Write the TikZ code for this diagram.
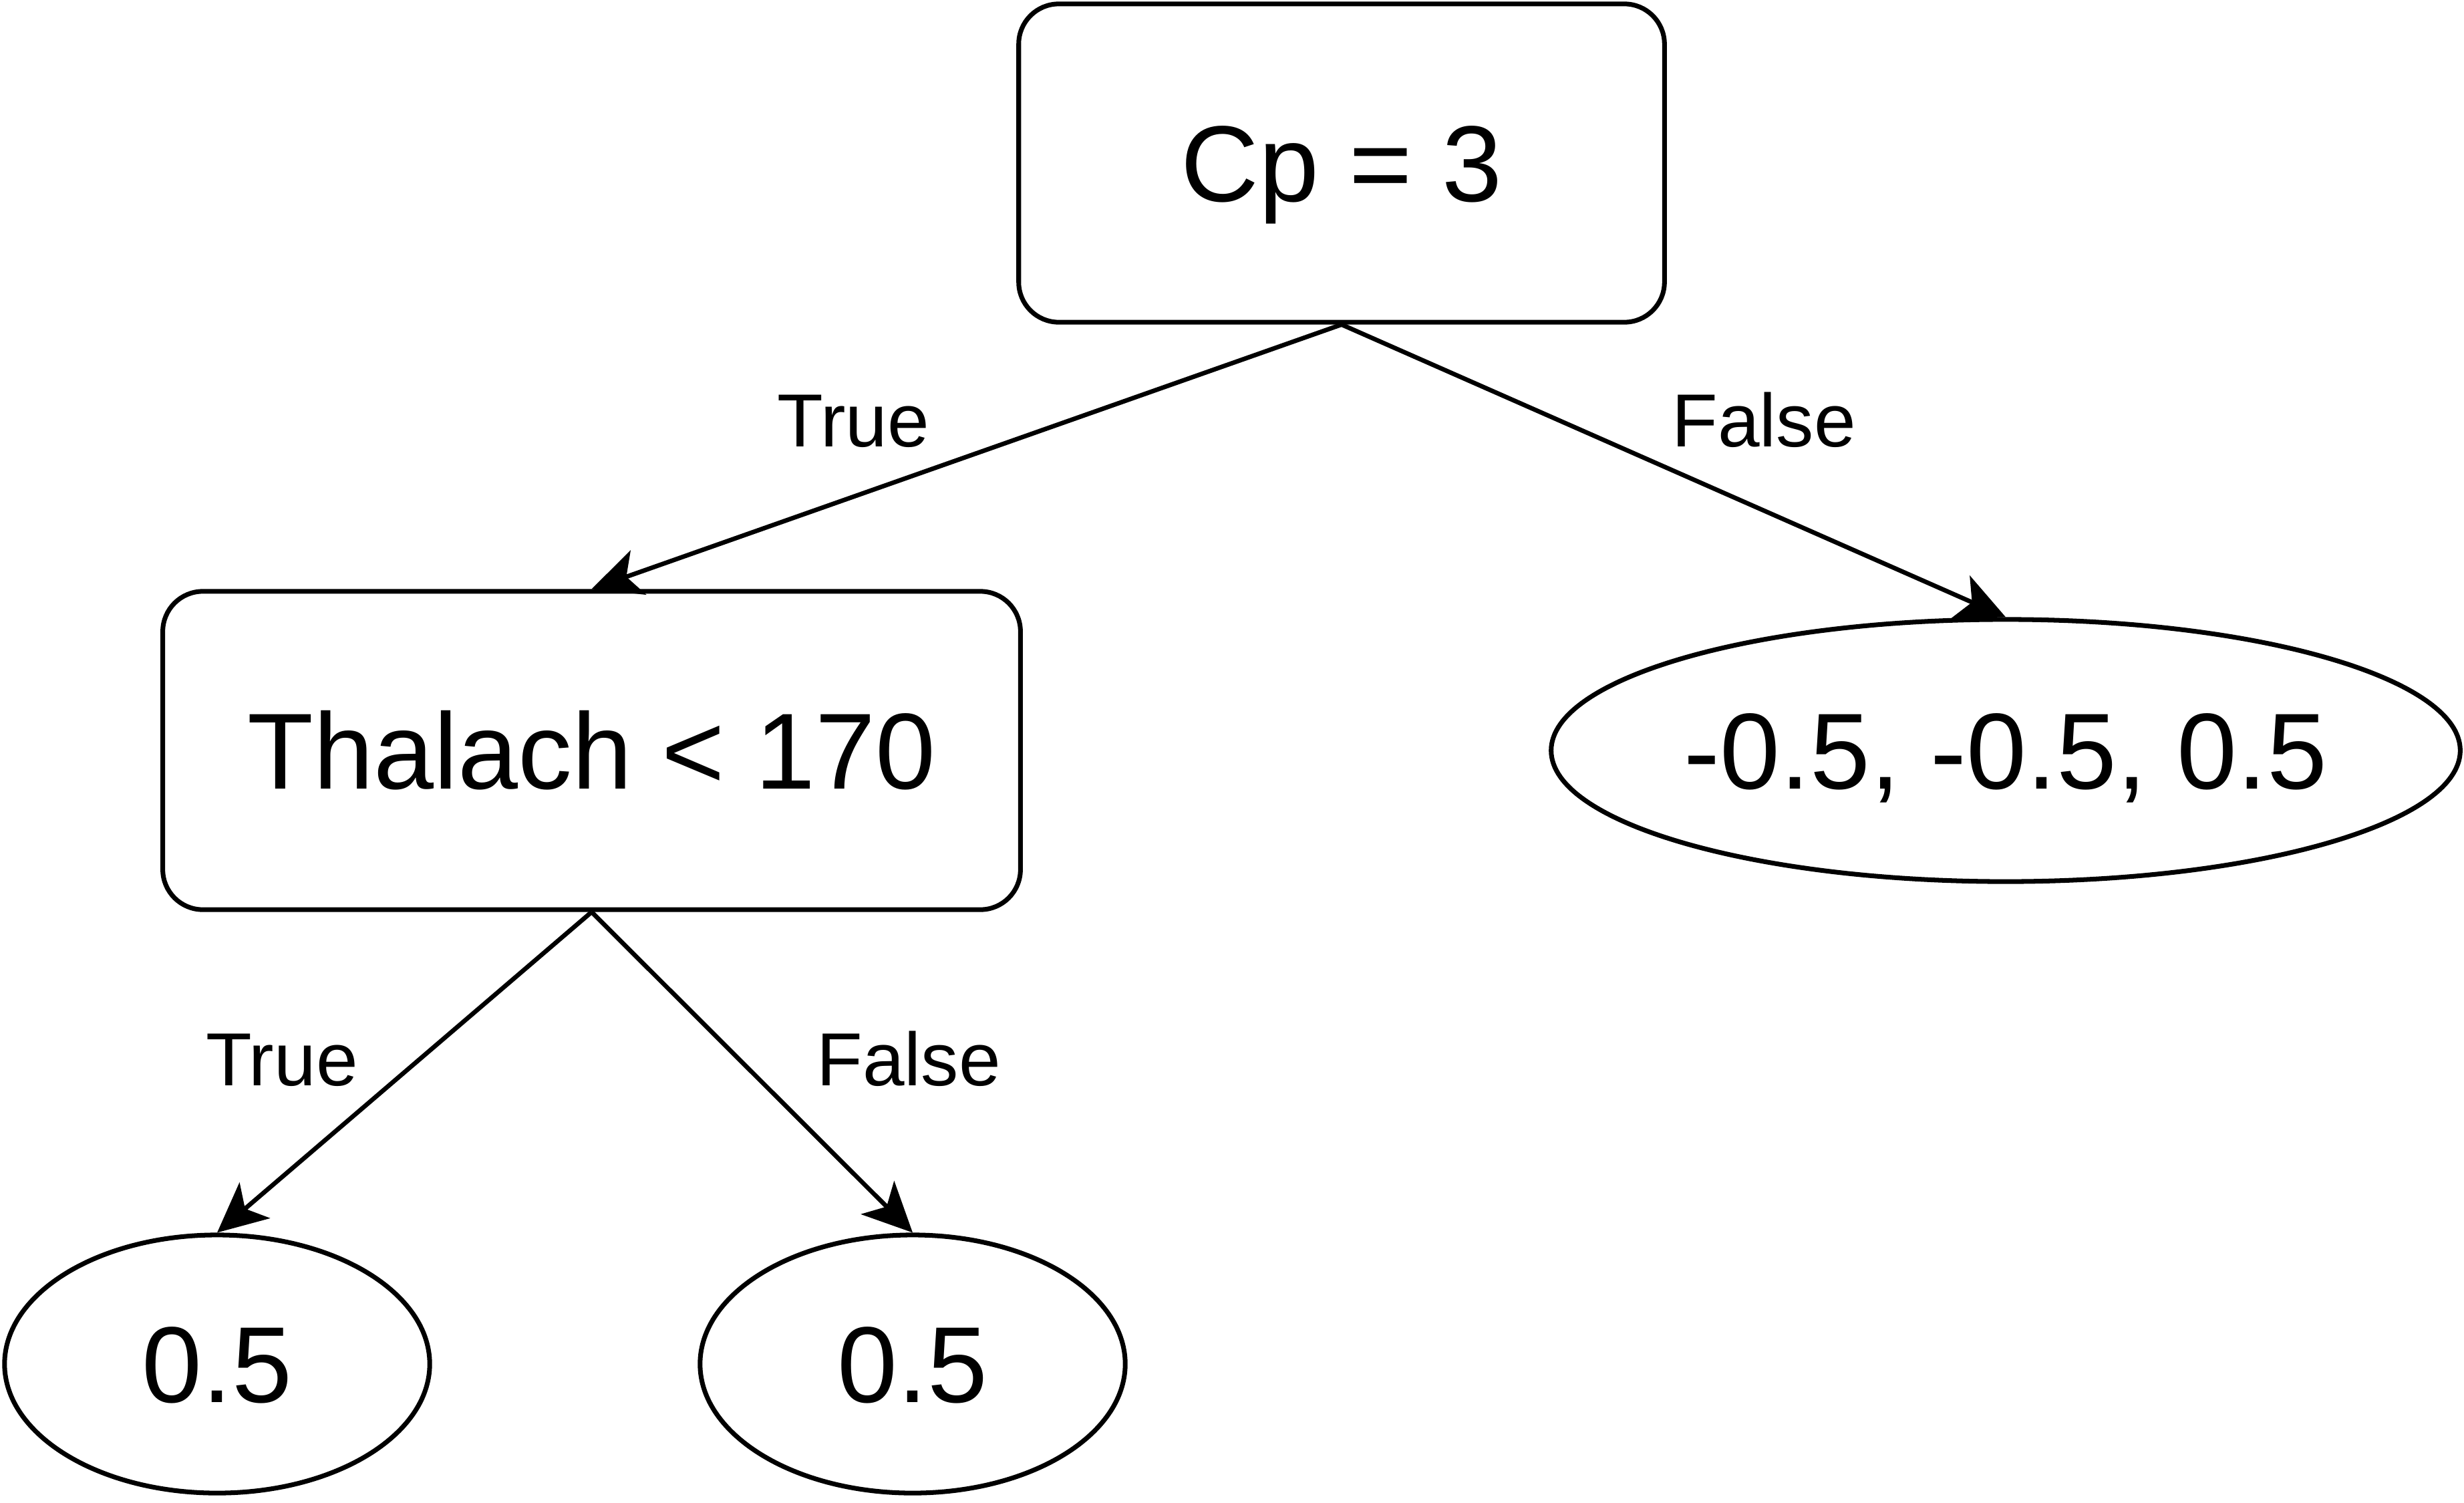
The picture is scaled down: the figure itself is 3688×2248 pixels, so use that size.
\documentclass[tikz,border=0pt]{standalone}
\usepackage{fontspec}
\setmainfont{Liberation Sans}
\usetikzlibrary{shapes.geometric,arrows.meta}
\begin{document}
\begin{tikzpicture}[x=0.01cm,y=-0.01cm,
  bigtext/.style={font=\fontsize{46pt}{55pt}\selectfont, text height=1.157cm, text depth=0pt, inner sep=0pt},
  decision/.style={bigtext, draw=black, line width=2pt, rounded corners=0.6cm, rectangle, minimum height=4.76cm},
  leaf/.style={bigtext, draw=black, line width=2pt, ellipse, inner sep=0pt},
  edgelabel/.style={font=\fontsize{32pt}{38pt}\selectfont, text height=0.80cm, text depth=0pt, inner sep=0pt},
  conn/.style={line width=1.9pt, -{Stealth[length=0.74cm, width=0.7cm, inset=0.19cm]}}
]
\useasboundingbox (0,0) rectangle (3688,2248);
\fill[white] (0,0) rectangle (3688,2248);

\node[decision, minimum width=9.66cm] (cp) at (2008,244) {Cp = 3};
\node[decision, minimum width=12.83cm] (thal) at (885.5,1123) {Thalach < 170};
\node[leaf, minimum width=13.50cm, minimum height=3.92cm] (leafr) at (3002,1123) {-0.5, -0.5, 0.5};
\node[leaf, minimum width=6.36cm, minimum height=3.86cm] (leafa) at (325,2041) {0.5};
\node[leaf, minimum width=6.36cm, minimum height=3.86cm] (leafb) at (1366,2041) {0.5};

\draw[conn] (cp.south) -- (thal.north);
\draw[conn] (cp.south) -- (leafr.north);
\draw[conn] (thal.south) -- (leafa.north);
\draw[conn] (thal.south) -- (leafb.north);

\node[edgelabel] (l1) at (1277,628) {True};
\node[edgelabel] (l2) at (2640,628) {False};
\node[edgelabel] (l3) at (422,1584) {True};
\node[edgelabel] (l4) at (1360,1584) {False};
\end{tikzpicture}
\end{document}
